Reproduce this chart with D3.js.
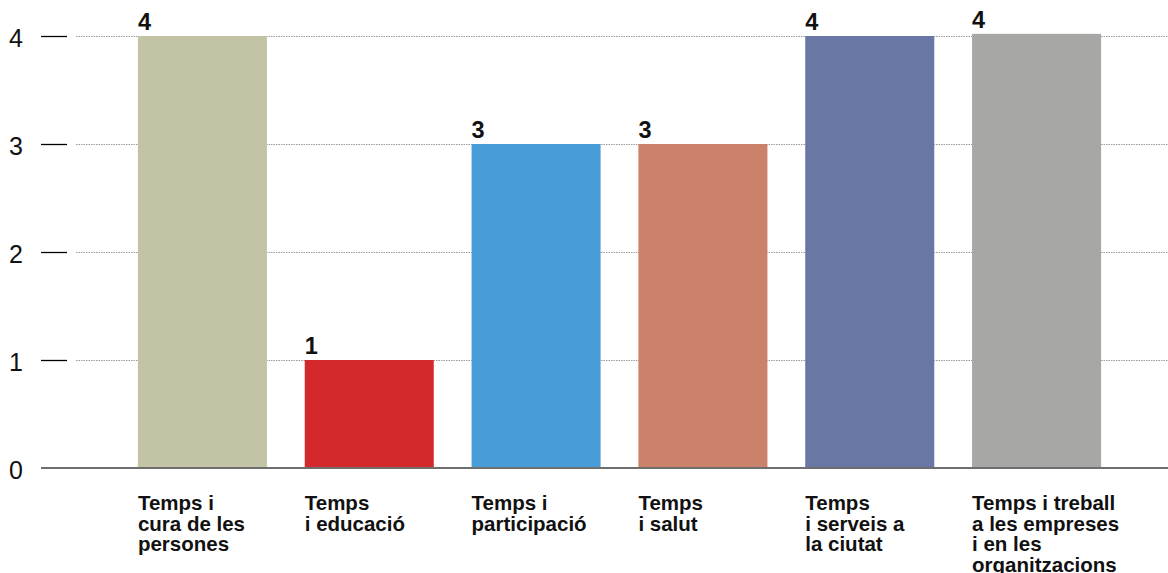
<!DOCTYPE html>
<html>
<head>
<meta charset="utf-8">
<script src="https://cdn.jsdelivr.net/npm/d3@7"></script>
<style>
  body { margin: 0; background: #fff; }
  svg { display: block; font-family: "Liberation Sans", Arial, Helvetica, sans-serif; }
</style>
</head>
<body>
<svg id="chart" width="1168" height="573"></svg>
<script>
// --- Data ---
const categories = [
  ["Temps i", "cura de les", "persones"],
  ["Temps", "i educació"],
  ["Temps i", "participació"],
  ["Temps", "i salut"],
  ["Temps", "i serveis a", "la ciutat"],
  ["Temps i treball", "a les empreses", "i en les", "organitzacions"]
];
const values = [4, 1, 3, 3, 4, 4.02];
const valueLabels = ["4", "1", "3", "3", "4", "4"];
const colors = ["#c3c4a5", "#d4292b", "#489cd7", "#cb826a", "#6877a4", "#a7a7a5"];
const yTicks = [0, 1, 2, 3, 4];

const svg = d3.select("#chart");
const ids = categories.map((c, i) => i);

const x = d3.scaleBand()
  .domain(ids)
  .range([119, 1120])
  .paddingInner(0.2266)
  .paddingOuter(0.1133);

const y = d3.scaleLinear()
  .domain([0, 4])
  .range([468, 36]);

// Gridlines (dotted)
svg.append("g")
  .selectAll("line")
  .data(yTicks.filter(d => d > 0))
  .enter()
  .append("line")
  .attr("x1", 76)
  .attr("x2", 1168)
  .attr("y1", d => y(d) + 0.5)
  .attr("y2", d => y(d) + 0.5)
  .attr("stroke", "#9a9a9a")
  .attr("stroke-width", 1)
  .attr("stroke-dasharray", "1.5,1");

// Y axis: short ticks + labels
const yAxis = svg.append("g")
  .attr("transform", "translate(67,0)")
  .call(d3.axisLeft(y).tickValues(yTicks).tickSize(26).tickPadding(19).tickFormat(d3.format("d")));
yAxis.select(".domain").remove();
yAxis.selectAll(".tick line").attr("stroke", "#000").attr("stroke-width", 1.3)
  .filter(d => d === 0).remove();
yAxis.selectAll(".tick text")
  .attr("font-size", 25)
  .attr("fill", "#111")
  .attr("font-family", "Liberation Sans, Arial, sans-serif")
  .attr("dx", "1")
  .attr("dy", "0.42em");

// Bars
svg.append("g")
  .selectAll("rect")
  .data(values)
  .enter()
  .append("rect")
  .attr("x", (d, i) => x(i))
  .attr("y", d => y(d))
  .attr("width", x.bandwidth())
  .attr("height", d => y(0) - y(d))
  .attr("fill", (d, i) => colors[i]);

// Baseline
svg.append("line")
  .attr("x1", 41)
  .attr("x2", 1168)
  .attr("y1", y(0))
  .attr("y2", y(0))
  .attr("stroke", "#6e6e6e")
  .attr("stroke-width", 2);

// Value labels
svg.append("g")
  .selectAll("text")
  .data(values)
  .enter()
  .append("text")
  .attr("x", (d, i) => x(i))
  .attr("y", d => y(d) - 6)
  .attr("font-size", 23.5)
  .attr("font-weight", "bold")
  .attr("fill", "#111")
  .text((d, i) => valueLabels[i]);

// Category labels
const catG = svg.append("g")
  .selectAll("text")
  .data(categories)
  .enter()
  .append("text")
  .attr("x", (d, i) => x(i))
  .attr("y", 510)
  .attr("font-size", 20.5)
  .attr("font-weight", "bold")
  .attr("fill", "#111");

catG.selectAll("tspan")
  .data(d => d)
  .enter()
  .append("tspan")
  .attr("x", function () { return d3.select(this.parentNode).attr("x"); })
  .attr("dy", (d, i) => i === 0 ? 0 : 20.5)
  .text(d => d);
</script>
</body>
</html>
